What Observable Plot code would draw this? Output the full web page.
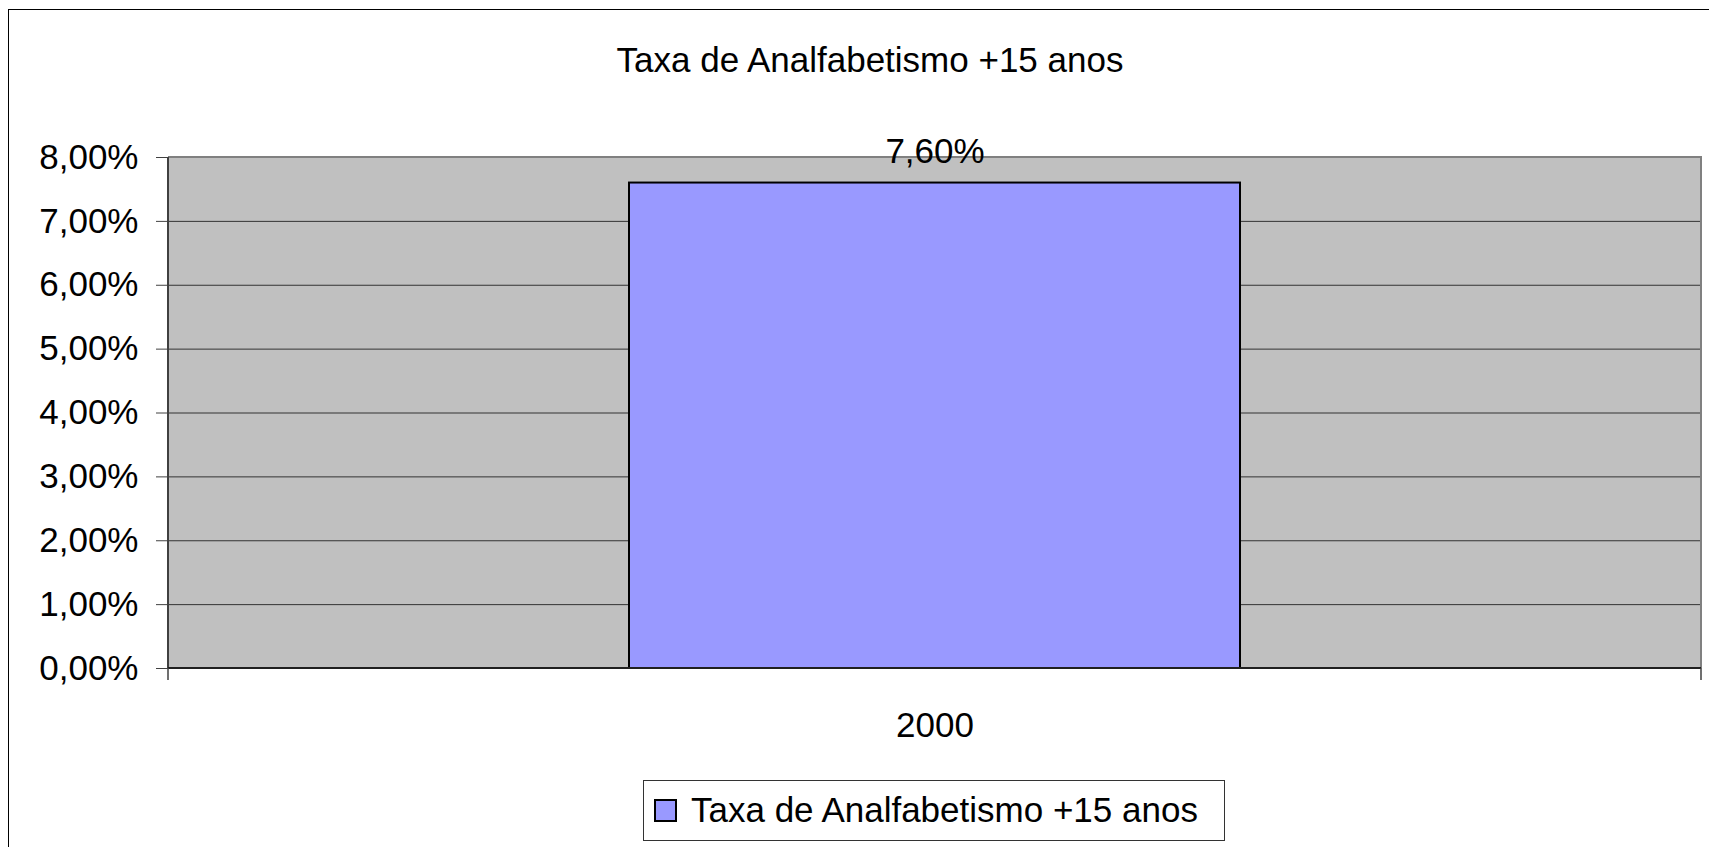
<!DOCTYPE html>
<html>
<head>
<meta charset="utf-8">
<script src="https://cdn.jsdelivr.net/npm/d3@7"></script>
<script src="https://cdn.jsdelivr.net/npm/@observablehq/plot@0.6"></script>
<style>
  html, body { margin: 0; padding: 0; background: #fff; overflow: hidden; }
  #wrap { position: relative; width: 1709px; height: 847px; overflow: hidden; font-family: "Liberation Sans", Arial, sans-serif; }
  #border { position: absolute; left: 8px; top: 9px; right: 0; bottom: 0; border-top: 1.5px solid #000; border-left: 1.5px solid #000; }
  #title { position: absolute; left: 8px; width: 1724px; top: 40px; height: 40px; line-height: 40px; text-align: center; font-size: 35px; color: #000; }
  #chart { position: absolute; left: 0; top: 0; }
  #legend { position: absolute; left: 643px; top: 780px; width: 582px; height: 61px; border: 1.5px solid #333; box-sizing: border-box; background: #fff; }
  #legend .sw { position: absolute; left: 10px; top: 18px; width: 23px; height: 23px; background: #9999FF; border: 2px solid #000; box-sizing: border-box; }
  #legend .lb { position: absolute; left: 47px; top: 9px; line-height: 40px; font-size: 35px; color: #000; white-space: nowrap; }
</style>
</head>
<body>
<div id="wrap">
  <div id="border"></div>
  <div id="title"></div>
  <div id="chart"></div>
  <div id="legend"><div class="sw"></div><div class="lb"></div></div>
</div>
<script>
const titleText = "Taxa de Analfabetismo +15 anos";
const seriesName = "Taxa de Analfabetismo +15 anos";
const categories = ["2000"];
const values = [0.076];
const yTicks = [0, 0.01, 0.02, 0.03, 0.04, 0.05, 0.06, 0.07, 0.08];

const ptBR = d3.formatLocale({decimal: ",", thousands: ".", grouping: [3], currency: ["R$", ""]});
const pct = ptBR.format(".2%");

const data = categories.map((c, i) => ({cat: c, value: values[i]}));

document.getElementById("title").textContent = titleText;
document.querySelector("#legend .lb").textContent = seriesName;

const edges = (index, scales, vals, dims) => {
  const l = dims.marginLeft, r = dims.width - dims.marginRight;
  const t = dims.marginTop, b = dims.height - dims.marginBottom;
  const g = d3.create("svg:g");
  g.append("path").attr("d", `M${l},${t}H${r}V${b}`).attr("fill", "none").attr("stroke", "#808080").attr("stroke-width", 2);
  g.append("line").attr("x1", l).attr("x2", l).attr("y1", t).attr("y2", b).attr("stroke", "#404040").attr("stroke-width", 2);
  g.append("line").attr("x1", l).attr("x2", r).attr("y1", b).attr("y2", b).attr("stroke", "#202020").attr("stroke-width", 2);
  [l, r].forEach(x => g.append("line").attr("x1", x).attr("x2", x).attr("y1", b).attr("y2", b + 12).attr("stroke", "#404040").attr("stroke-width", 1.5));
  return g.node();
};

const chart = Plot.plot({
  width: 1709,
  height: 760,
  marginLeft: 168,
  marginRight: 8,
  marginTop: 157,
  marginBottom: 92,
  style: {fontFamily: "'Liberation Sans', Arial, sans-serif", background: "transparent", overflow: "visible"},
  x: {type: "band", domain: categories, padding: 0.43},
  y: {domain: [0, 0.08]},
  marks: [
    Plot.frame({fill: "#C0C0C0"}),
    Plot.ruleY(yTicks, {stroke: "#333", strokeWidth: 1}),
    Plot.barY(data, {x: "cat", y: "value", fill: "#9999FF", stroke: "#000", strokeWidth: 2}),
    edges,
    Plot.text(data, {x: "cat", y: "value", text: d => pct(d.value), dy: -31, fontSize: 35, fill: "#000"}),
    Plot.axisY({ticks: yTicks, tickFormat: pct, tickSize: 12, tickPadding: 18, fontSize: 35, label: null, stroke: "#404040", color: "#000"}),
    Plot.axisX({tickSize: 0, tickPadding: 44, fontSize: 35, label: null, color: "#000"})
  ]
});
document.getElementById("chart").appendChild(chart);
</script>
</body>
</html>
